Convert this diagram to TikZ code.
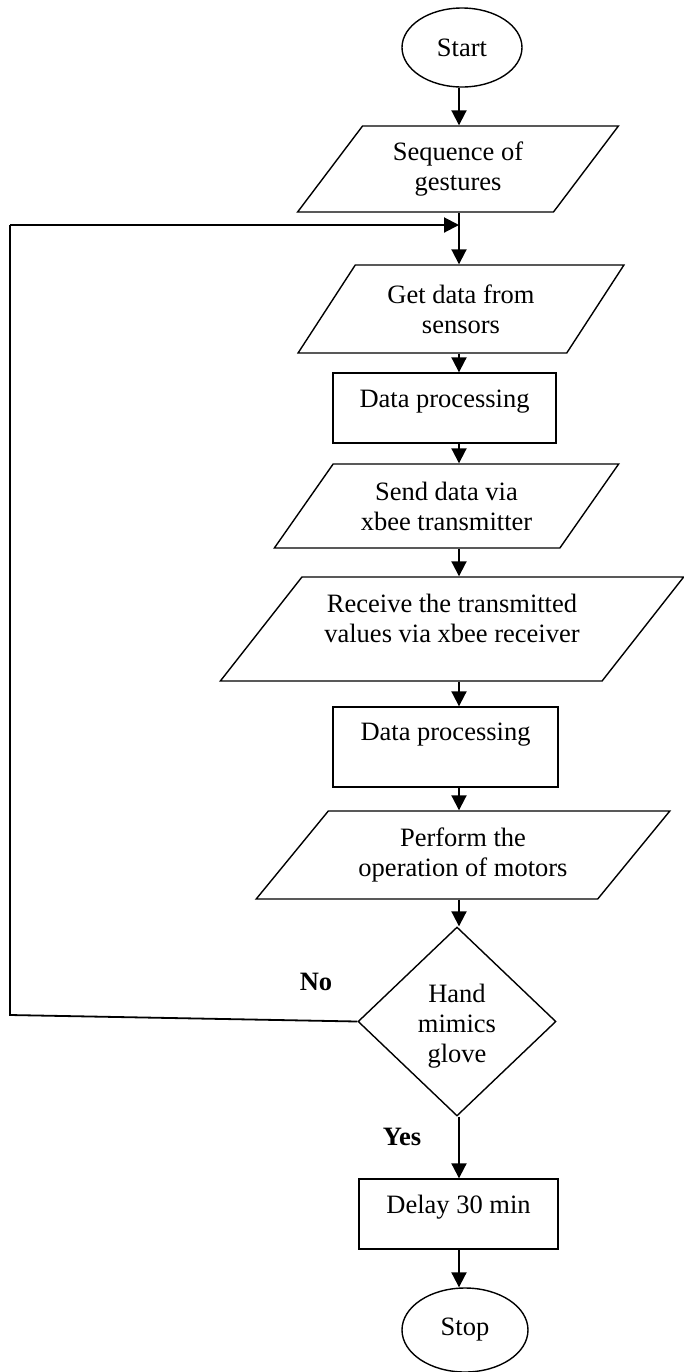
\documentclass[tikz,border=0pt]{standalone}
\usepackage{fontspec}
\setmainfont{Liberation Serif}
\usetikzlibrary{shapes.geometric, arrows.meta}

\begin{document}
\begin{tikzpicture}[
        x=0.5pt, y=-0.5pt,
        every node/.style={align=center, font=\fontsize{13.25}{15}\selectfont, inner sep=2pt},
        terminal/.style={draw, ellipse, line width=0.7pt, inner sep=0pt},
        process/.style={draw, rectangle, line width=0.7pt},
        io/.style 2 args={draw, trapezium, trapezium stretches=true, trapezium left angle=#1, trapezium right angle=#2, line width=0.7pt},
        decision/.style={draw, diamond, line width=0.7pt, inner sep=0pt},
        answer/.style={font=\fontsize{13.25}{15}\selectfont\bfseries},
        flow/.style={line width=1pt, -{Triangle[length=7.5pt, width=7.5pt]}},
        feedback/.style={line width=0.9pt}
    ]
    \useasboundingbox (0,0) rectangle (684,1372);
    % Start and the gestures
    \node[terminal, minimum width=60pt, minimum height=39.5pt] (start) at (462,47.5) {Start};
    \node[io={53}{127}, minimum width=160.5pt, minimum height=43pt] (seq) at (458,169) {Sequence of\\gestures};
    % Glove side
    \node[io={53.6}{126.4}, minimum width=163pt, minimum height=44pt] (get) at (461,309) {Get data from\\sensors};
    \node[process, minimum width=111.5pt, minimum height=35pt, text depth=9pt] (proc1) at (444.5,408) {Data processing};
    \node[io={50.6}{129.4}, minimum width=172.5pt, minimum height=42pt] (send) at (446.5,506) {Send data via\\xbee transmitter};
    % Hand side
    \node[io={47.6}{132.4}, minimum width=232pt, minimum height=52pt, text depth=11pt] (recv) at (452,629) {Receive the transmitted\\values via xbee receiver};
    \node[process, minimum width=112.5pt, minimum height=40pt, text depth=15pt] (proc2) at (445.5,747) {Data processing};
    \node[io={47}{133}, minimum width=207pt, minimum height=44pt] (motor) at (463,855) {Perform the\\operation of motors};
    % Decision
    \node[decision, minimum width=99pt, minimum height=94.5pt, text height=44pt] (hand) at (457,1021.5) {Hand\\mimics\\glove};
    \node[answer] (no) at (316,982) {No};
    \node[answer] (yes) at (402,1137) {Yes};
    % End
    \node[process, minimum width=99.5pt, minimum height=35pt, text depth=10pt] (delay) at (458.5,1214) {Delay 30 min};
    \node[terminal, minimum width=63pt, minimum height=42pt] (stop) at (465,1330) {Stop};

    % Connectors
    \coordinate (axis) at (459,0);
    \coordinate (back) at (10,1015);
    \coordinate (up) at (10,225);
    \draw[flow] (axis |- start.south) -- (axis |- seq.north);
    \foreach \a/\b in {seq/get, get/proc1, proc1/send, send/recv, recv/proc2, proc2/motor, motor/hand, hand/delay, delay/stop}
        \draw[flow] (axis |- \a.south) -- (axis |- \b.north);
    % No: back to the sensors
    \draw[feedback] (hand.west) -- (back) -- (up);
    \draw[flow] (up) -- (axis |- up);
\end{tikzpicture}
\end{document}
